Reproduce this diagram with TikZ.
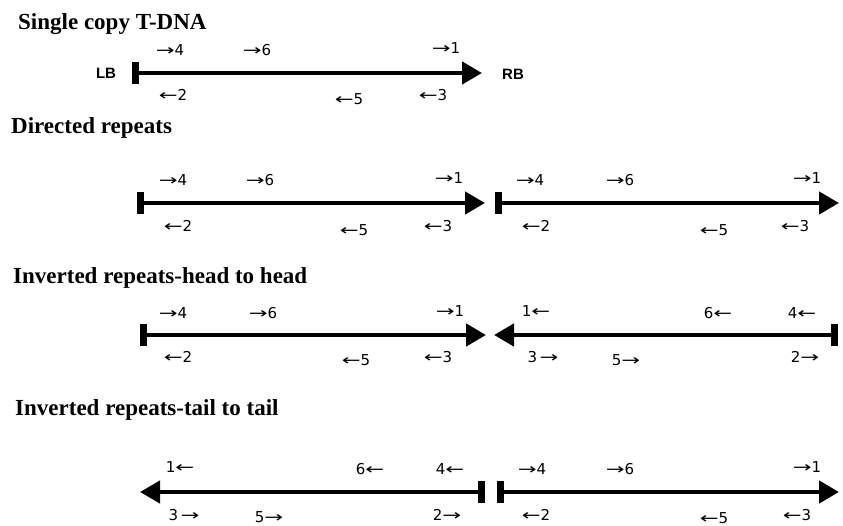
\documentclass[tikz,border=0pt]{standalone}
\usepackage{graphicx}
\usepackage{fontspec}
\setmainfont{Liberation Serif}
\newfontfamily\sitefont{DejaVu Sans}
\newfontfamily\borderfont{Liberation Sans}
\usetikzlibrary{arrows.meta}
\newcommand{\sR}{\scalebox{1.5}[1]{→}}
\newcommand{\sL}{\scalebox{1.5}[1]{←}}
\tikzset{
  tdna/.style={line width=4.5pt,
    arrows={Bar[width=22pt,line width=7pt]-Triangle[length=20pt,width=22pt]}},
  heading/.style={anchor=west, inner sep=0pt, font=\bfseries\fontsize{23}{23}\selectfont},
  border/.style={inner sep=0pt, font=\borderfont\bfseries\fontsize{15}{15}\selectfont},
  site/.style={inner sep=0pt, font=\sitefont\fontsize{15}{15}\selectfont}
}
\begin{document}
\begin{tikzpicture}[x=1pt,y=-1pt]
  \useasboundingbox (0,0) rectangle (843,526);
  % single copy
  \node[heading] (h1) at (18,24) {Single copy T-DNA};
  \coordinate (a1) at (132,73);
  \coordinate (b1) at (482,73);
  \node[border] (lb) at (106,73) {LB};
  \node[border] (rb) at (513,74) {RB};
  \draw
    (170,50) node[site] (a1s4) {\sR4}
    (257,50) node[site] (a1s6) {\sR6}
    (446,48) node[site] (a1s1) {\sR1}
    (173,95) node[site] (a1s2) {\sL2}
    (349,99) node[site] (a1s5) {\sL5}
    (433,95) node[site] (a1s3) {\sL3};
  \draw[tdna] (a1) to (b1);
  % directed repeats
  \node[heading] (h2) at (11,128) {Directed repeats};
  \coordinate (a2) at (137,203);
  \coordinate (b2) at (485,203);
  \coordinate (c2) at (495,203);
  \coordinate (d2) at (839,203);
  \draw
    (173,180) node[site] (a2s4) {\sR4}
    (260,180) node[site] (a2s6) {\sR6}
    (449,178) node[site] (a2s1) {\sR1}
    (178,226) node[site] (a2s2) {\sL2}
    (354,230) node[site] (a2s5) {\sL5}
    (438,226) node[site] (a2s3) {\sL3}
    (530,180) node[site] (c2s4) {\sR4}
    (620,180) node[site] (c2s6) {\sR6}
    (807,178) node[site] (c2s1) {\sR1}
    (536,226) node[site] (c2s2) {\sL2}
    (714,230) node[site] (c2s5) {\sL5}
    (795,226) node[site] (c2s3) {\sL3};
  \draw[tdna] (a2) to (b2);
  \draw[tdna] (c2) to (d2);
  % head to head
  \node[heading] (h3) at (13,278) {Inverted repeats-head to head};
  \coordinate (a3) at (140,335);
  \coordinate (b3) at (486,335);
  \coordinate (c3) at (838,335);
  \coordinate (d3) at (494,335);
  \draw
    (173,313) node[site] (a3s4) {\sR4}
    (263,313) node[site] (a3s6) {\sR6}
    (450,311) node[site] (a3s1) {\sR1}
    (178,357) node[site] (a3s2) {\sL2}
    (356,360) node[site] (a3s5) {\sL5}
    (438,357) node[site] (a3s3) {\sL3}
    (536,311) node[site] (c3s1) {1\sL}
    (718,313) node[site] (c3s6) {6\sL}
    (802,313) node[site] (c3s4) {4\sL}
    (543,357) node[site] (c3s3) {3\,\sR}
    (626,360) node[site] (c3s5) {5\sR}
    (805,357) node[site] (c3s2) {2\sR};
  \draw[tdna] (a3) to (b3);
  \draw[tdna] (c3) to (d3);
  % tail to tail
  \node[heading] (h4) at (15,410) {Inverted repeats-tail to tail};
  \coordinate (a4) at (485,492);
  \coordinate (b4) at (140,492);
  \coordinate (c4) at (497,492);
  \coordinate (d4) at (839,492);
  \draw
    (180,467) node[site] (a4s1) {1\sL}
    (370,469) node[site] (a4s6) {6\sL}
    (450,469) node[site] (a4s4) {4\sL}
    (184,515) node[site] (a4s3) {3\,\sR}
    (269,517) node[site] (a4s5) {5\sR}
    (447,515) node[site] (a4s2) {2\sR}
    (532,469) node[site] (c4s4) {\sR4}
    (620,469) node[site] (c4s6) {\sR6}
    (807,467) node[site] (c4s1) {\sR1}
    (536,515) node[site] (c4s2) {\sL2}
    (714,518) node[site] (c4s5) {\sL5}
    (797,515) node[site] (c4s3) {\sL3};
  \draw[tdna] (a4) to (b4);
  \draw[tdna] (c4) to (d4);
\end{tikzpicture}
\end{document}
